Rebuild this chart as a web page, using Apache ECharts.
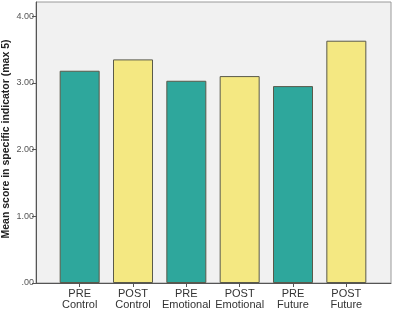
<!DOCTYPE html>
<html>
<head>
<meta charset="utf-8">
<script src="https://cdn.jsdelivr.net/npm/echarts@6/dist/echarts.min.js"></script>
<style>
    html, body { margin: 0; padding: 0; background: #fff; }
    #chart { width: 393px; height: 318px; }
</style>
</head>
<body>
<div id="chart"></div>
<script>
// values
var categories = ['PRE\nControl', 'POST\nControl', 'PRE\nEmotional', 'POST\nEmotional', 'PRE\nFuture', 'POST\nFuture'];
var meanScores = [3.18, 3.35, 3.03, 3.10, 2.95, 3.63];
var barColors = ['#2ea79c', '#f4e882', '#2ea79c', '#f4e882', '#2ea79c', '#f4e882'];
var yTicks = [0, 1, 2, 3, 4];
var yTitle = 'Mean score in specific indicator (max 5)';

var yMax = 4.21;
var chart = echarts.init(document.getElementById('chart'));

var barData = meanScores.map(function(v, i) {
    return { value: v, itemStyle: { color: barColors[i] } };
});

chart.setOption({
    animation: false,
    grid: [
        // frame + background
        { left: 36, right: 2, top: 2, bottom: 35, outerBoundsMode: 'none', containLabel: false,
          show: true, backgroundColor: '#f1f1f1', borderColor: '#9a9a9a', borderWidth: 1 },
        // bars
        { left: 53, width: 320, top: 2, bottom: 35, outerBoundsMode: 'none', containLabel: false }
    ],
    // y axis title, placed by hand (v6 name placement pushes it off canvas)
    graphic: [{
        type: 'text',
        x: 6, y: 139,
        rotation: Math.PI / 2,
        style: {
            text: yTitle,
            fill: '#222',
            font: 'bold 10.5px "Liberation Sans", Arial',
            align: 'center',
            verticalAlign: 'middle'
        }
    }],
    xAxis: [
        {
            gridIndex: 0, type: 'value', min: 0, max: 1,
            axisLine: { show: true, onZero: false, lineStyle: { color: '#555', width: 1 } },
            axisTick: { show: false }, axisLabel: { show: false }, splitLine: { show: false }
        },
        {
            gridIndex: 1, type: 'category', data: categories,
            axisLine: { show: false },
            axisTick: { show: true, alignWithLabel: true, length: 4, lineStyle: { color: '#555' } },
            axisLabel: { color: '#333', fontSize: 11, fontFamily: 'Liberation Sans, Arial', lineHeight: 11, margin: 5, interval: 0 }
        }
    ],
    yAxis: [
        {
            gridIndex: 0, type: 'value', min: 0, max: yMax, interval: 1,
            axisLine: { show: true, lineStyle: { color: '#555', width: 1 } },
            axisTick: { show: true, length: 4, lineStyle: { color: '#555' },
                customValues: yTicks },
            axisLabel: { color: '#555', fontSize: 9, fontFamily: 'Liberation Sans, Arial', margin: 2,
                customValues: yTicks,
                formatter: function(v) { return v === 0 ? '.00' : v.toFixed(2); } },
            splitLine: { show: false }
        },
        {
            gridIndex: 1, type: 'value', min: 0, max: yMax, show: false
        }
    ],
    series: [{
        type: 'bar',
        xAxisIndex: 1,
        yAxisIndex: 1,
        data: barData,
        barWidth: 40,
        itemStyle: { borderColor: '#5a5a4a', borderWidth: 1 }
    }]
});
</script>
</body>
</html>
